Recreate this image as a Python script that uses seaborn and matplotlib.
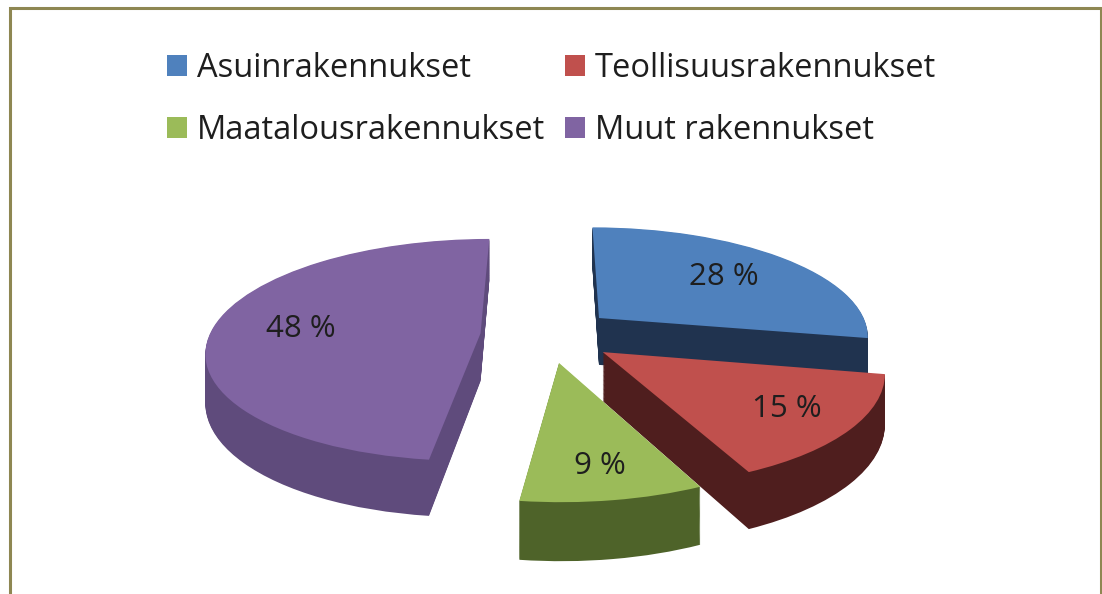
import matplotlib
matplotlib.use("Agg")
import numpy as np
import matplotlib.pyplot as plt
import seaborn as sns
from matplotlib.patches import Rectangle
from matplotlib.transforms import Transform

categories = ["Asuinrakennukset", "Teollisuusrakennukset", "Maatalousrakennukset", "Muut rakennukset"]
shares = [28, 15, 9, 48]
top_colors = ["#4F81BD", "#C0504D", "#9BBB59", "#8064A2"]
side_colors = ["#20334F", "#4F1E1E", "#4E6329", "#5F4B7C"]


class Tilt(Transform):
    """Simple perspective: points further back (y > 0) get smaller, drop = wall depth."""
    input_dims = output_dims = 2

    def __init__(self, k, drop=0.0):
        super().__init__()
        self.k = k
        self.drop = drop

    def transform_non_affine(self, values):
        v = np.asarray(values, dtype=float)
        s = 1.0 / (1.0 + self.k * v[:, 1])
        return np.column_stack([v[:, 0] * s, (v[:, 1] - self.drop) * s])


sns.set_style("white")
plt.rcParams["font.family"] = ["Open Sans", "DejaVu Sans"]

W, H = 1102, 594
fig = plt.figure(figsize=(W / 100, H / 100), dpi=100)
ax = fig.add_axes([0, 0, 1, 1])

k = 0.15
explode = [0.25] * len(shares)
depth = 0.44
n_layers = 60
rank = [0, 2, 3, 1]  # back-to-front drawing order: blue, purple, red, green

# side walls: the same pie repeated lower down in darker colours
for i in range(n_layers, 0, -1):
    t = depth * i / n_layers
    layer, _ = ax.pie(shares, colors=side_colors, explode=explode, startangle=90,
                      counterclock=False, wedgeprops=dict(linewidth=0))
    for j, w in enumerate(layer):
        w.set_transform(Tilt(k, t) + ax.transData)
        w.set_zorder(1 + 2 * rank[j] + 0.9 * (1 - i / n_layers))

# top face with the percentage labels
wedges, texts, autotexts = ax.pie(
    shares, colors=top_colors, explode=explode, startangle=90, counterclock=False,
    autopct=lambda p: f"{p:.0f} %", pctdistance=0.6,
    textprops=dict(fontsize=22.5, color="#1e1e1e"), wedgeprops=dict(linewidth=0))
for j, w in enumerate(wedges):
    w.set_transform(Tilt(k) + ax.transData)
    w.set_zorder(1 + 2 * rank[j] + 0.95)

label_r = [0.665, 0.76, 0.78, 0.67]
for w, txt, r, e in zip(wedges, autotexts, label_r, explode):
    mid = np.deg2rad((w.theta1 + w.theta2) / 2)
    txt.set_position(((r + e) * np.cos(mid), (r + e) * np.sin(mid)))
    txt.set_transform(Tilt(k) + ax.transData)
    txt.set_zorder(20)

# squash the pie into an ellipse (tilted view)
cx, cy, rx, ry = 548, 335, 271, 109
ax.set_aspect("auto")
ax.set_xlim(-cx / rx, (W - cx) / rx)
ax.set_ylim(-(H - cy) / ry, cy / ry)
ax.axis("off")

order = [0, 2, 1, 3]
fig.legend([wedges[i] for i in order], [categories[i] for i in order],
           loc="upper left", bbox_to_anchor=(167 / W, 1 - 52 / H), ncol=2,
           frameon=False, fontsize=23.5, handlelength=0.61, handleheight=0.61,
           handletextpad=0.31, columnspacing=0.6, labelspacing=0.9,
           borderpad=0, borderaxespad=0, labelcolor="#1e1e1e")

# chart frame (bottom edge is cut off in the original)
fig.add_artist(Rectangle((9.5 / W, -0.05), (1100.5 - 9.5) / W, 1.05 - 7.5 / H,
                         transform=fig.transFigure, fill=False,
                         edgecolor="#8E8752", linewidth=2.2))

fig.savefig("out.png", dpi=100, facecolor="white")
